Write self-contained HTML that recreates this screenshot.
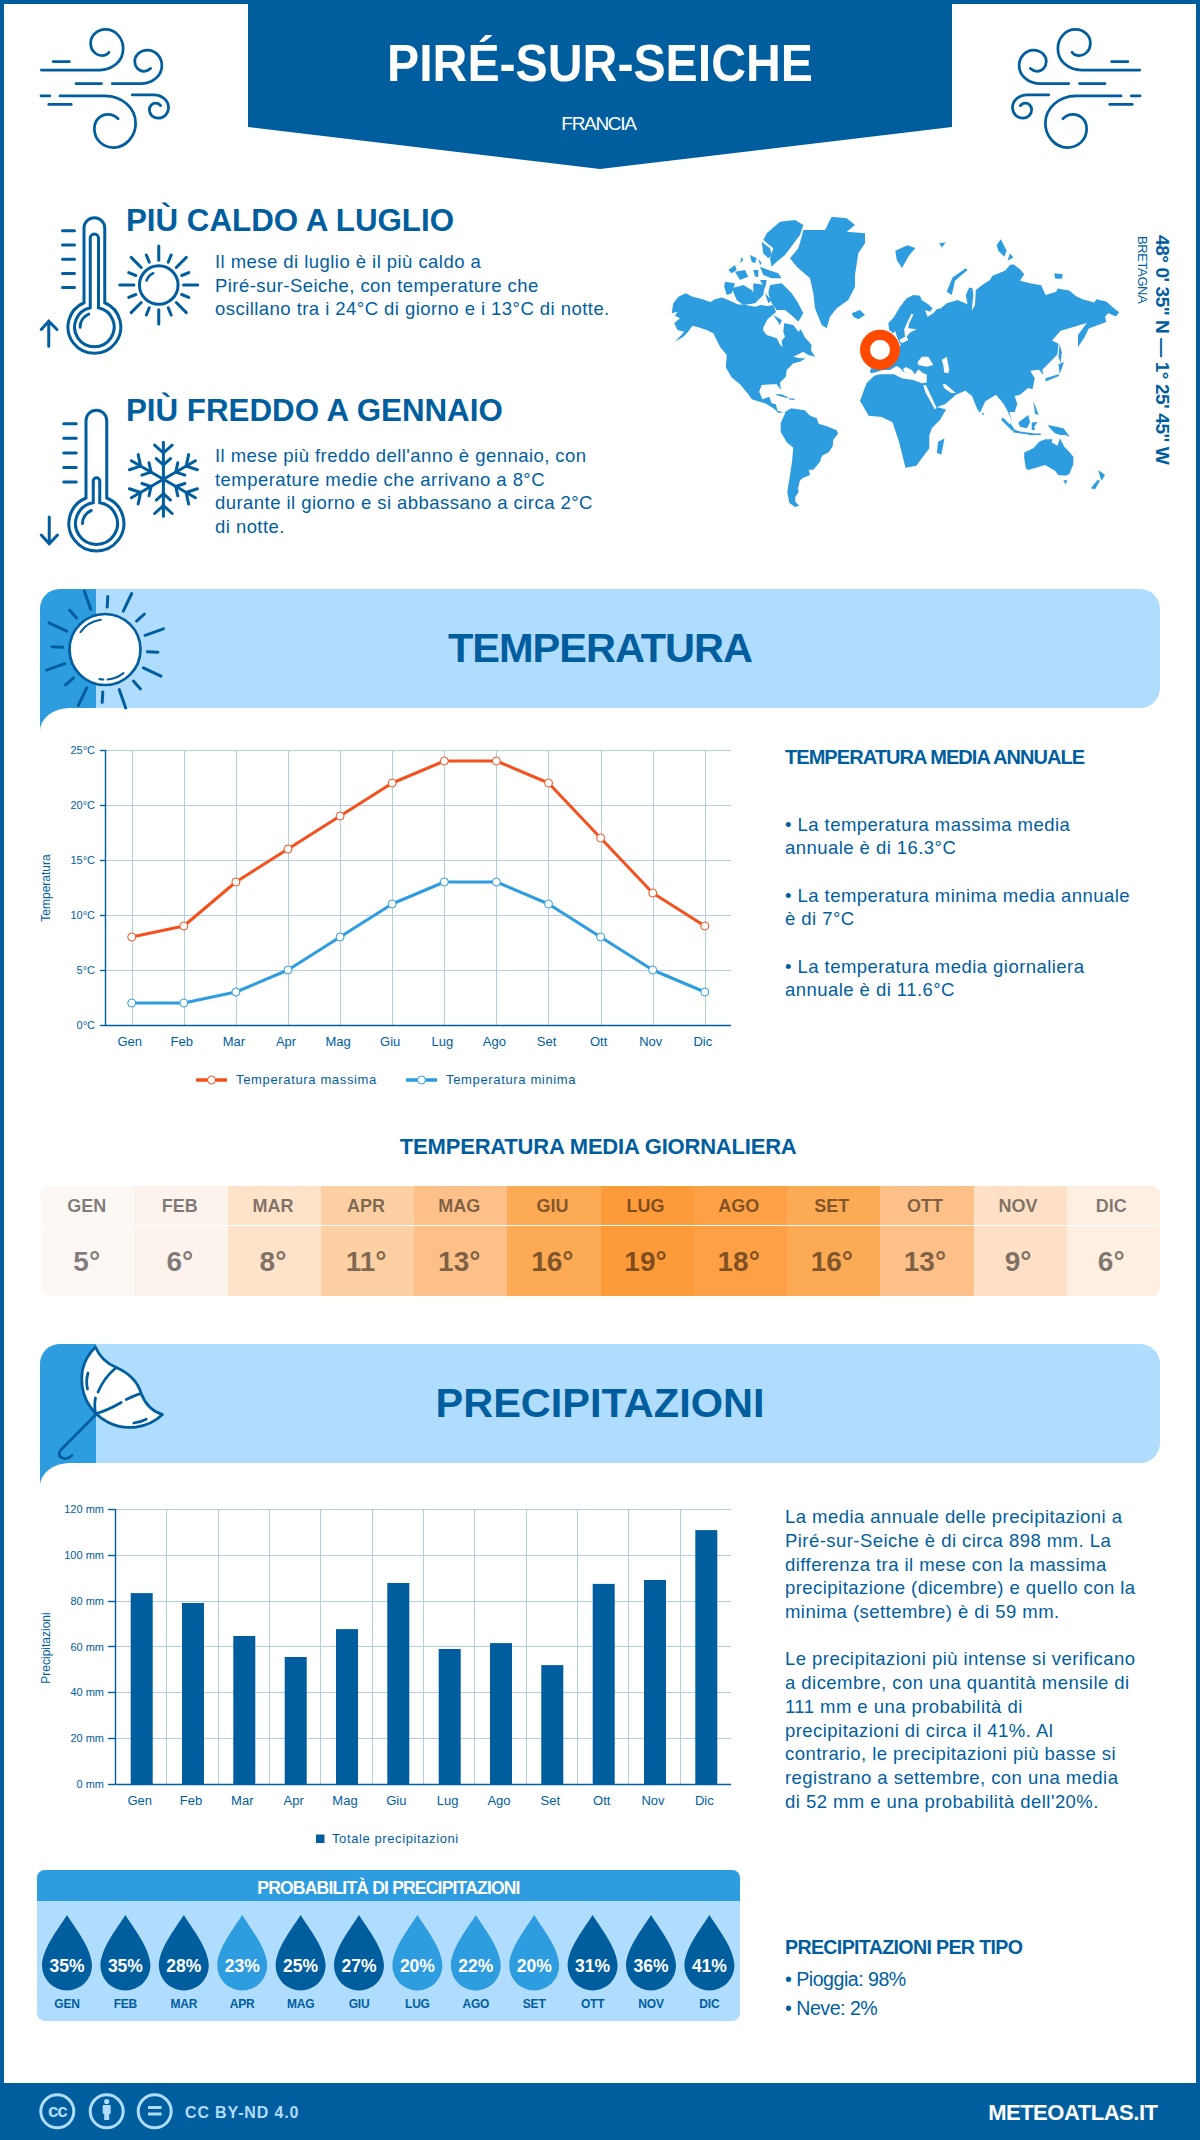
<!DOCTYPE html>
<html><head><meta charset="utf-8">
<style>
html,body{margin:0;padding:0}
body{width:1200px;height:2140px;position:relative;overflow:hidden;background:#fff;font-family:"Liberation Sans",sans-serif;color:#005e9f}
.a{position:absolute;white-space:nowrap}
.b{font-weight:bold}
svg{position:absolute;overflow:visible}
.brd{position:absolute;background:#005e9f}
.p{font-size:18.5px;line-height:23.4px;letter-spacing:0.45px}
</style></head><body>
<!-- borders -->
<div class="brd" style="left:0;top:0;width:1200px;height:4px"></div>
<div class="brd" style="left:0;top:0;width:4px;height:2140px"></div>
<div class="brd" style="right:0;top:0;width:4px;height:2140px"></div>
<div class="brd" style="left:0;top:2083px;width:1200px;height:57px"></div>

<!-- title banner -->
<svg style="left:0;top:0" width="1200" height="180"><polygon points="248,0 952,0 952,127 600,169 248,127" fill="#005e9f"/></svg>
<div class="a b" style="left:0;width:1200px;text-align:center;top:28px;font-size:52px;line-height:70px;color:#fff;transform:scaleX(0.927)">PIRÉ-SUR-SEICHE</div>
<div class="a" style="left:-1.5px;width:1200px;text-align:center;top:113px;font-size:19px;line-height:22px;color:#fff;letter-spacing:-1.3px">FRANCIA</div>

<!--ICONS_TOP-->
<svg style="left:30px;top:20px" width="150" height="135" viewBox="0 0 1200 1080"><g fill="none" stroke="#005e9f" stroke-width="22" stroke-linecap="round"><path d="M90,400 L555,400 C660,400 745,330 745,230 C745,140 680,75 605,75 C530,75 485,130 485,185 C485,240 525,285 575,285 C600,285 620,275 632,258"/>
<path d="M185,332 L315,332"/>
<path d="M368,508 L572,508"/>
<path d="M658,508 L895,508 C985,508 1055,440 1055,365 C1055,295 1000,240 940,240 C880,240 838,285 838,330 C838,375 870,410 910,410 C935,410 952,400 965,388"/>
<path d="M88,607 L158,607"/>
<path d="M240,607 L600,607 C740,607 845,710 845,825 C845,930 765,1020 670,1020 C580,1020 515,955 515,870 C515,800 565,755 625,755 C655,755 685,770 705,790"/>
<path d="M150,675 L330,675"/>
<path d="M818,598 L990,598 C1055,598 1108,645 1108,700 C1108,750 1070,785 1025,785 C985,785 955,755 955,718 C955,688 978,665 1005,665 C1022,665 1035,672 1045,685"/></g></svg><svg style="left:1001px;top:20px" width="150" height="135" viewBox="0 0 1200 1080"><g transform="translate(1200,0) scale(-1,1)" fill="none" stroke="#005e9f" stroke-width="22" stroke-linecap="round"><path d="M90,400 L555,400 C660,400 745,330 745,230 C745,140 680,75 605,75 C530,75 485,130 485,185 C485,240 525,285 575,285 C600,285 620,275 632,258"/>
<path d="M185,332 L315,332"/>
<path d="M368,508 L572,508"/>
<path d="M658,508 L895,508 C985,508 1055,440 1055,365 C1055,295 1000,240 940,240 C880,240 838,285 838,330 C838,375 870,410 910,410 C935,410 952,400 965,388"/>
<path d="M88,607 L158,607"/>
<path d="M240,607 L600,607 C740,607 845,710 845,825 C845,930 765,1020 670,1020 C580,1020 515,955 515,870 C515,800 565,755 625,755 C655,755 685,770 705,790"/>
<path d="M150,675 L330,675"/>
<path d="M818,598 L990,598 C1055,598 1108,645 1108,700 C1108,750 1070,785 1025,785 C985,785 955,755 955,718 C955,688 978,665 1005,665 C1022,665 1035,672 1045,685"/></g></svg><svg style="left:20px;top:190px" width="75" height="45" viewBox="0 0 300 180" overflow="visible"><g fill="none" stroke="#005e9f" stroke-width="12" stroke-linecap="round">
<path d="M256,451 L256,152.5 A41.5,41.5 0 0 1 339,152.5 L339,451 A105.5,105.5 0 1 1 256,451 Z"/>
<path d="M281,471 L281,192.5 A16.5,16.5 0 0 1 314,192.5 L314,471 A79,79 0 1 1 281,471 Z"/>
<path d="M240.5,548.5 A56.5,56.5 0 0 1 275,496.5"/>
<path d="M170,163 H218 M170,220 H218 M170,277 H218 M170,334 H218 M170,390 H218"/>
<path d="M115,625 V525 M85,558 L115,525 L148,558"/>
</g></svg><svg style="left:20px;top:380px" width="75" height="45" viewBox="0 0 300 180" overflow="visible"><g fill="none" stroke="#005e9f" stroke-width="12" stroke-linecap="round">
<path d="M264,472 L264,162.5 A41.5,41.5 0 0 1 347,162.5 L347,472 A110,110 0 1 1 264,472 Z"/>
<path d="M293,491 L293,404 A13,13 0 0 1 319,404 L319,491 A84,84 0 1 1 293,491 Z"/>
<path d="M250,574 A56,56 0 0 1 285,522"/>
<path d="M175,175 H225 M175,233 H225 M175,292 H225 M175,350 H225 M175,408 H225"/>
<path d="M117,548 V655 M85,620 L117,655 L150,620"/>
</g></svg><svg style="left:0;top:0" width="1" height="1"><g fill="none" stroke="#005e9f" stroke-width="3" stroke-linecap="round"><line x1="158.75" y1="260.20" x2="158.75" y2="246.00"/><line x1="168.24" y1="262.09" x2="171.19" y2="254.97"/><line x1="176.29" y1="267.46" x2="186.33" y2="257.42"/><line x1="181.66" y1="275.51" x2="188.78" y2="272.56"/><line x1="183.55" y1="285.00" x2="197.75" y2="285.00"/><line x1="181.66" y1="294.49" x2="188.78" y2="297.44"/><line x1="176.29" y1="302.54" x2="186.33" y2="312.58"/><line x1="168.24" y1="307.91" x2="171.19" y2="315.03"/><line x1="158.75" y1="309.80" x2="158.75" y2="324.00"/><line x1="149.26" y1="307.91" x2="146.31" y2="315.03"/><line x1="141.21" y1="302.54" x2="131.17" y2="312.58"/><line x1="135.84" y1="294.49" x2="128.72" y2="297.44"/><line x1="133.95" y1="285.00" x2="119.75" y2="285.00"/><line x1="135.84" y1="275.51" x2="128.72" y2="272.56"/><line x1="141.21" y1="267.46" x2="131.17" y2="257.42"/><line x1="149.26" y1="262.09" x2="146.31" y2="254.97"/><circle cx="158.75" cy="285" r="19.3"/><path d="M146.53,280.55 A13,13 0 0 1 153.26,273.22" stroke-width="2.5"/></g></svg><svg style="left:0;top:0" width="1" height="1"><g fill="none" stroke="#005e9f" stroke-width="3" stroke-linecap="round"><line x1="163.40" y1="479.30" x2="163.40" y2="442.30"/><line x1="163.40" y1="465.00" x2="156.27" y2="458.58"/><line x1="163.40" y1="465.00" x2="170.53" y2="458.58"/><line x1="163.40" y1="453.00" x2="154.63" y2="445.10"/><line x1="163.40" y1="453.00" x2="172.17" y2="445.10"/><line x1="163.40" y1="479.30" x2="195.44" y2="460.80"/><line x1="175.78" y1="472.15" x2="177.78" y2="462.76"/><line x1="175.78" y1="472.15" x2="184.91" y2="475.12"/><line x1="186.18" y1="466.15" x2="188.63" y2="454.61"/><line x1="186.18" y1="466.15" x2="197.40" y2="469.80"/><line x1="163.40" y1="479.30" x2="195.44" y2="497.80"/><line x1="175.78" y1="486.45" x2="184.91" y2="483.48"/><line x1="175.78" y1="486.45" x2="177.78" y2="495.84"/><line x1="186.18" y1="492.45" x2="197.40" y2="488.80"/><line x1="186.18" y1="492.45" x2="188.63" y2="503.99"/><line x1="163.40" y1="479.30" x2="163.40" y2="516.30"/><line x1="163.40" y1="493.60" x2="170.53" y2="500.02"/><line x1="163.40" y1="493.60" x2="156.27" y2="500.02"/><line x1="163.40" y1="505.60" x2="172.17" y2="513.50"/><line x1="163.40" y1="505.60" x2="154.63" y2="513.50"/><line x1="163.40" y1="479.30" x2="131.36" y2="460.80"/><line x1="151.02" y1="472.15" x2="141.89" y2="475.12"/><line x1="151.02" y1="472.15" x2="149.02" y2="462.76"/><line x1="140.62" y1="466.15" x2="129.40" y2="469.80"/><line x1="140.62" y1="466.15" x2="138.17" y2="454.61"/><line x1="163.40" y1="479.30" x2="131.36" y2="497.80"/><line x1="151.02" y1="486.45" x2="149.02" y2="495.84"/><line x1="151.02" y1="486.45" x2="141.89" y2="483.48"/><line x1="140.62" y1="492.45" x2="138.17" y2="503.99"/><line x1="140.62" y1="492.45" x2="129.40" y2="488.80"/></g></svg>
<!--/ICONS_TOP-->

<!-- hot / cold -->
<div class="a b" style="left:126px;top:200.9px;font-size:31.3px;line-height:40px">PIÙ CALDO A LUGLIO</div>
<div class="a p" style="left:215px;top:250.2px">Il mese di luglio è il più caldo a<br>Piré-sur-Seiche, con temperature che<br>oscillano tra i 24°C di giorno e i 13°C di notte.</div>
<div class="a b" style="left:126px;top:390.9px;font-size:31.3px;line-height:40px">PIÙ FREDDO A GENNAIO</div>
<div class="a p" style="left:215px;top:444.4px">Il mese più freddo dell'anno è gennaio, con<br>temperature medie che arrivano a 8°C<br>durante il giorno e si abbassano a circa 2°C<br>di notte.</div>

<!--MAP-->
<svg style="left:0;top:0" width="1" height="1"><polygon fill="#2e9de0" points="673.3,303.3 678.3,296.7 685.8,293.3 692.5,296.7 702.5,299.2 710.4,302.1 715.0,299.2 721.7,297.5 728.3,300.0 737.5,304.2 745.8,305.0 755.0,306.7 760.8,305.0 768.0,306.0 773.3,305.0 776.0,312.0 767.5,319.2 763.3,327.5 763.3,330.8 766.7,335.0 776.7,338.3 779.2,343.3 782.5,347.5 781.7,340.8 785.0,336.7 783.3,331.7 784.2,323.3 785.0,323.3 793.3,325.0 798.3,331.7 800.8,329.2 805.0,337.5 811.7,345.0 810.8,350.0 815.0,356.7 808.3,355.0 803.3,351.7 793.3,356.7 800.0,358.3 805.8,358.3 800.0,361.7 793.3,363.3 786.7,370.0 785.8,376.7 780.0,382.5 780.8,390.0 776.7,384.2 771.7,384.2 761.7,385.0 759.2,391.7 762.5,399.2 769.2,396.7 771.7,403.3 775.8,404.2 777.5,410.8 783.3,412.3 778.7,413.0 773.3,408.3 765.0,403.3 751.7,399.2 748.3,394.2 740.0,384.2 731.7,377.5 725.8,367.5 726.7,355.0 720.0,346.7 713.3,333.3 706.7,330.0 696.7,326.7 692.5,325.8 687.5,332.5 683.3,336.7 675.0,341.7 684.2,331.7 677.5,330.0 674.2,323.3 680.0,318.3 675.0,315.8 677.5,311.7 671.7,313.3"/><polygon fill="#2e9de0" points="785.3,411.7 791.3,408.3 804.7,410.3 810.0,415.7 816.7,418.3 818.7,423.7 826.7,426.3 836.7,430.3 838.0,433.7 833.3,439.7 832.7,446.3 828.7,452.3 822.0,455.7 820.0,461.7 813.3,469.7 808.7,469.7 810.0,475.0 803.3,477.7 800.0,480.3 798.0,488.3 798.7,491.7 795.3,497.0 795.3,501.7 799.3,505.7 795.3,507.0 789.3,503.0 787.3,491.7 790.0,475.0 792.0,461.7 793.3,447.7 786.7,442.3 780.7,431.7 780.7,423.0 784.7,414.3"/><polygon fill="#2e9de0" points="803.3,230.0 825.0,230.0 831.7,216.7 846.7,218.3 855.0,225.0 846.7,231.7 865.0,233.3 865.0,243.3 858.3,253.3 855.0,275.0 855.0,286.7 848.3,300.0 836.7,308.3 830.0,316.7 826.7,328.3 821.7,325.0 815.0,308.3 813.3,293.3 810.0,278.3 796.7,266.7 790.0,258.3 798.3,248.3 801.7,236.7"/><polygon fill="#2e9de0" points="851.7,313.3 860.0,310.0 865.0,315.0 858.3,319.2 853.3,316.7"/><polygon fill="#2e9de0" points="725.0,281.7 735.0,283.3 731.7,293.3 726.7,295.0 724.2,286.7"/><polygon fill="#2e9de0" points="731.7,288.3 743.3,285.0 751.7,290.0 758.3,300.0 755.0,303.3 743.3,305.0 736.7,300.0"/><polygon fill="#2e9de0" points="753.3,283.3 765.0,285.0 763.3,295.0 758.3,300.0 753.3,293.3"/><polygon fill="#2e9de0" points="728.3,270.0 735.0,265.0 736.7,270.0 731.7,273.3"/><polygon fill="#2e9de0" points="735.0,271.7 745.0,270.0 748.3,276.7 740.0,280.0"/><polygon fill="#2e9de0" points="741.7,256.7 743.3,260.0 740.0,263.3"/><polygon fill="#2e9de0" points="750.0,255.0 756.7,258.3 755.0,263.3 751.7,261.7"/><polygon fill="#2e9de0" points="753.3,270.0 758.3,270.0 758.3,276.7 755.0,276.7"/><polygon fill="#2e9de0" points="758.3,258.3 761.7,263.3 760.0,265.0"/><polygon fill="#2e9de0" points="760.0,266.7 768.3,270.0 778.3,273.3 781.7,278.3 771.7,278.3 763.3,275.0"/><polygon fill="#2e9de0" points="760.0,280.0 766.7,280.0 765.0,288.3"/><polygon fill="#2e9de0" points="765.0,293.3 771.7,300.0 768.3,303.3"/><polygon fill="#2e9de0" points="766.7,233.3 780.0,221.7 795.0,220.0 803.3,225.0 800.0,235.0 785.0,255.0 775.0,263.3 771.7,266.7 770.0,258.3 773.3,248.3 763.3,240.0"/><polygon fill="#2e9de0" points="761.7,241.7 770.0,248.3 771.7,255.0 768.3,258.3 763.3,253.3"/><polygon fill="#2e9de0" points="770.0,285.0 781.7,283.3 791.7,293.3 798.3,303.3 803.3,313.3 798.3,321.7 793.3,316.7 785.0,310.0 776.7,310.0 771.7,303.3 768.3,293.3"/><polygon fill="#2e9de0" points="773.3,315.0 781.7,320.0 780.0,325.0"/><polygon fill="#2e9de0" points="775.8,394.2 781.7,394.2 788.3,397.5 786.7,397.9 775.8,395.0"/><polygon fill="#2e9de0" points="789.2,398.3 795.0,398.8 794.2,400.0 789.2,399.6"/><polygon fill="#2e9de0" points="888.3,323.3 894.2,316.7 900.0,306.7 906.7,298.3 913.3,295.0 920.0,295.8 921.7,300.0 928.3,304.2 932.5,308.3 930.0,311.7 925.0,310.0 927.5,316.7 933.3,313.3 936.7,309.2 940.8,308.3 946.7,303.3 957.5,300.0 967.5,304.2 965.8,295.0 969.2,287.5 972.5,288.3 973.3,295.0 971.7,310.8 975.0,305.0 975.8,290.0 983.3,284.2 990.0,280.0 992.5,275.8 1005.0,270.8 1010.0,265.0 1013.3,264.2 1020.0,269.2 1024.2,274.2 1020.0,280.8 1030.0,283.3 1041.2,285.2 1045.5,294.9 1056.3,291.7 1057.4,288.4 1069.3,290.6 1075.8,296.0 1082.3,299.3 1094.3,302.5 1096.4,299.3 1106.2,301.4 1114.8,309.0 1119.2,312.3 1115.9,316.6 1108.3,313.3 1105.1,316.6 1106.2,322.0 1097.5,325.3 1088.8,328.5 1084.5,337.2 1078.0,346.9 1078.0,335.0 1086.7,323.1 1075.8,326.3 1060.7,330.7 1052.0,340.4 1058.5,343.7 1057.4,354.5 1048.8,363.2 1042.3,369.7 1043.3,375.1 1039.0,369.7 1030.3,370.8 1034.7,378.3 1032.5,389.2 1028.0,388.0 1020.0,394.7 1014.7,396.0 1017.3,404.0 1014.7,412.0 1009.3,412.0 1012.0,421.3 1006.7,409.3 1002.7,402.7 996.0,394.7 985.3,401.3 980.0,412.7 977.3,409.3 972.0,396.0 965.3,390.7 956.0,394.7 945.3,404.0 937.0,407.0 946.0,409.5 940.0,420.0 932.0,428.0 929.3,435.3 929.3,448.3 922.8,457.0 916.3,465.7 905.5,467.8 899.0,441.8 892.5,422.3 881.7,416.9 868.7,415.8 860.0,400.7 866.5,383.3 874.2,375.8 870.0,372.0 870.8,368.3 881.7,368.0 890.0,361.7 895.0,359.2 898.0,350.0 900.7,345.0 897.5,338.3 895.0,330.8 893.3,333.3 889.2,330.0"/><polygon fill="#fff" points="872.0,373.0 875.0,372.5 882.5,370.0 890.0,370.0 896.7,366.0 900.0,368.0 905.0,373.3 903.0,369.0 906.0,367.0 911.7,370.0 915.0,374.2 918.3,369.2 923.3,373.3 926.7,374.2 926.7,377.5 926.7,382.5 921.7,383.3 913.3,380.0 901.7,378.3 894.2,374.2 880.0,374.2 870.0,376.7"/><polygon fill="#fff" points="917.5,362.5 921.7,356.7 928.3,356.7 933.3,365.0 926.7,366.7 918.3,365.0"/><polygon fill="#fff" points="941.7,360.0 946.7,356.7 949.2,369.2 948.3,373.3 944.2,372.5 943.3,365.0"/><polygon fill="#fff" points="899.2,340.0 905.0,336.7 904.2,329.2 907.5,321.7 911.7,313.3 913.3,315.0 909.2,323.3 908.3,328.3 916.7,329.2 910.0,332.5 906.7,336.7 908.3,340.0 901.7,343.3"/><polygon fill="#fff" points="923.3,385.3 926.0,385.3 936.7,408.0 934.7,409.3 925.3,392.0"/><polygon fill="#fff" points="942.7,384.0 945.3,384.0 953.3,390.7 956.0,393.3 950.7,392.7 944.0,388.0"/><polygon fill="#2e9de0" points="895.3,250.7 907.3,245.3 915.3,248.0 908.7,256.0 902.0,268.0 896.7,260.0"/><polygon fill="#2e9de0" points="946.7,291.7 952.5,277.5 965.8,268.3 967.5,270.0 955.0,280.8 951.7,295.0"/><polygon fill="#2e9de0" points="1000.8,239.2 1006.7,250.8 1004.2,256.7 998.3,250.8 996.7,245.0"/><polygon fill="#2e9de0" points="1010.0,253.3 1013.3,257.5 1007.5,260.8"/><polygon fill="#2e9de0" points="939.2,243.3 945.8,242.5 941.7,247.5"/><polygon fill="#2e9de0" points="1054.2,273.3 1062.8,274.3 1061.8,278.7 1055.3,278.7"/><polygon fill="#2e9de0" points="1059.6,343.7 1061.8,352.3 1060.7,363.2 1058.5,356.7"/><polygon fill="#2e9de0" points="1063.9,362.1 1058.5,364.3 1059.6,374.0 1045.5,378.3 1045.5,381.6 1058.5,376.2 1062.0,368.0"/><polygon fill="#2e9de0" points="938.0,441.8 944.5,438.6 941.3,454.8 936.9,452.7"/><polygon fill="#2e9de0" points="1002.7,417.3 1013.3,428.0 1012.0,430.7 1001.3,420.0"/><polygon fill="#2e9de0" points="1010.0,422.5 1014.2,429.2 1025.0,434.2 1014.2,431.7 1010.0,428.3"/><polygon fill="#2e9de0" points="1013.3,430.7 1033.3,433.3 1033.0,435.0 1013.3,432.5"/><polygon fill="#2e9de0" points="1028.3,433.5 1040.8,433.5 1040.8,435.0 1028.3,435.0"/><polygon fill="#2e9de0" points="1018.3,422.5 1028.3,415.0 1030.0,422.5 1026.7,428.3 1020.0,426.7"/><polygon fill="#2e9de0" points="1031.7,422.5 1037.5,422.1 1034.2,426.7 1035.0,430.0 1031.7,430.0"/><polygon fill="#2e9de0" points="1033.3,401.3 1038.7,414.7 1035.0,414.0"/><polygon fill="#2e9de0" points="1047.5,425.0 1054.2,426.3 1063.3,428.3 1070.0,436.7 1065.0,435.0 1060.0,435.0 1055.0,433.3 1050.0,428.3"/><polygon fill="#2e9de0" points="1024.2,452.5 1033.3,448.3 1039.2,441.7 1045.0,439.2 1052.5,439.2 1051.7,442.5 1057.5,445.8 1060.0,438.3 1064.2,446.7 1068.3,450.8 1073.3,456.7 1073.3,464.2 1069.2,474.2 1065.0,475.8 1058.3,475.0 1055.0,470.8 1050.8,468.3 1045.0,465.0 1036.7,467.5 1028.3,470.0 1025.8,468.3 1024.2,458.3"/><polygon fill="#2e9de0" points="1063.3,480.0 1067.5,480.4 1065.4,484.2"/><polygon fill="#2e9de0" points="1098.3,470.0 1105.0,475.0 1101.7,480.8 1100.0,476.7"/><polygon fill="#2e9de0" points="1097.5,480.0 1100.0,480.8 1095.0,489.2 1090.8,488.3"/><polygon fill="#2e9de0" points="982.0,413.0 984.0,413.0 983.0,416.0"/><circle cx="880" cy="349.8" r="15" fill="none" stroke="#ff4a00" stroke-width="10"/></svg><div class="a b" style="left:1173.9px;top:234.5px;font-size:19px;line-height:24px;letter-spacing:-0.4px;transform:rotate(90deg);transform-origin:0 0">48° 0' 35'' N — 1° 25' 45'' W</div><div class="a" style="left:1150.3px;top:236px;font-size:13px;line-height:16px;letter-spacing:-0.4px;transform:rotate(90deg);transform-origin:0 0">BRETAGNA</div>
<!--/MAP-->

<!-- temperature header -->
<!--TEMPHEAD-->
<div style="position:absolute;left:40px;top:589px;width:1120px;height:119px;background:#b0dcfd;border-radius:20px"></div>
<div style="position:absolute;left:40px;top:589px;width:56px;height:142px;background:#2e9de0;border-top-left-radius:20px"></div>
<div style="position:absolute;left:40px;top:708px;width:80px;height:30px;background:#fff;border-top-left-radius:30px 23px"></div>
<div class="a b" style="left:0;width:1200px;text-align:center;top:620.3px;font-size:41.5px;line-height:56px;letter-spacing:-1px">TEMPERATURA</div>
<svg style="left:0;top:0" width="1" height="1"><g stroke="#005e9f" stroke-width="3" stroke-linecap="round" fill="none"><line x1="147.4" y1="651.7" x2="157.9" y2="652.3"/><line x1="143.4" y1="667.8" x2="161.0" y2="676.2"/><line x1="133.4" y1="681.1" x2="140.5" y2="688.9"/><line x1="119.2" y1="689.6" x2="125.7" y2="707.9"/><line x1="102.8" y1="691.9" x2="102.2" y2="702.4"/><line x1="86.7" y1="687.9" x2="78.3" y2="705.5"/><line x1="73.4" y1="677.9" x2="65.6" y2="685.0"/><line x1="64.9" y1="663.7" x2="46.6" y2="670.2"/><line x1="62.6" y1="647.3" x2="52.1" y2="646.7"/><line x1="66.6" y1="631.2" x2="49.0" y2="622.8"/><line x1="76.6" y1="617.9" x2="69.5" y2="610.1"/><line x1="90.8" y1="609.4" x2="84.3" y2="591.1"/><line x1="107.2" y1="607.1" x2="107.8" y2="596.6"/><line x1="123.3" y1="611.1" x2="131.7" y2="593.5"/><line x1="136.6" y1="621.1" x2="144.4" y2="614.0"/><line x1="145.1" y1="635.3" x2="163.4" y2="628.8"/><circle cx="105" cy="649.5" r="35.5" fill="#fff" stroke-width="2.7"/><path d="M80.4,632.3 A30,30 0 0 1 100.8,619.8" stroke-width="2"/><path d="M123.5,673.1 A30,30 0 0 1 107.6,679.4" stroke-width="2"/><path d="M103.4,679.5 A30,30 0 0 1 99.3,678.9" stroke-width="2"/></g></svg>
<!--/TEMPHEAD-->

<!--TEMPCHART-->
<svg style="left:0;top:0" width="1" height="1"><g stroke="#b3cde3" stroke-width="1"><line x1="106" y1="1025.5" x2="731" y2="1025.5"/><line x1="106" y1="970.5" x2="731" y2="970.5"/><line x1="106" y1="915.5" x2="731" y2="915.5"/><line x1="106" y1="860.5" x2="731" y2="860.5"/><line x1="106" y1="805.5" x2="731" y2="805.5"/><line x1="106" y1="750.5" x2="731" y2="750.5"/><line x1="132.5" y1="750" x2="132.5" y2="1025"/><line x1="184.5" y1="750" x2="184.5" y2="1025"/><line x1="236.5" y1="750" x2="236.5" y2="1025"/><line x1="288.5" y1="750" x2="288.5" y2="1025"/><line x1="340.5" y1="750" x2="340.5" y2="1025"/><line x1="392.5" y1="750" x2="392.5" y2="1025"/><line x1="444.5" y1="750" x2="444.5" y2="1025"/><line x1="496.5" y1="750" x2="496.5" y2="1025"/><line x1="548.5" y1="750" x2="548.5" y2="1025"/><line x1="601.5" y1="750" x2="601.5" y2="1025"/><line x1="653.5" y1="750" x2="653.5" y2="1025"/><line x1="705.5" y1="750" x2="705.5" y2="1025"/></g><g stroke="#005e9f" stroke-width="1.4"><line x1="105.5" y1="750" x2="105.5" y2="1025.5"/><line x1="105.5" y1="1025.5" x2="731" y2="1025.5"/><line x1="100" y1="1025.5" x2="106" y2="1025.5"/><line x1="100" y1="970.5" x2="106" y2="970.5"/><line x1="100" y1="915.5" x2="106" y2="915.5"/><line x1="100" y1="860.5" x2="106" y2="860.5"/><line x1="100" y1="805.5" x2="106" y2="805.5"/><line x1="100" y1="750.5" x2="106" y2="750.5"/></g><polyline points="131.7,937 183.8,926 235.9,882 288.0,849 340.1,816 392.2,783 444.3,761 496.4,761 548.5,783 600.6,838 652.7,893 704.8,926" fill="none" stroke="#f4511e" stroke-width="3" stroke-linejoin="round"/><circle cx="131.7" cy="937" r="4" fill="#fff" stroke="#f4511e" stroke-width="1"/><circle cx="183.8" cy="926" r="4" fill="#fff" stroke="#f4511e" stroke-width="1"/><circle cx="235.9" cy="882" r="4" fill="#fff" stroke="#f4511e" stroke-width="1"/><circle cx="288.0" cy="849" r="4" fill="#fff" stroke="#f4511e" stroke-width="1"/><circle cx="340.1" cy="816" r="4" fill="#fff" stroke="#f4511e" stroke-width="1"/><circle cx="392.2" cy="783" r="4" fill="#fff" stroke="#f4511e" stroke-width="1"/><circle cx="444.3" cy="761" r="4" fill="#fff" stroke="#f4511e" stroke-width="1"/><circle cx="496.4" cy="761" r="4" fill="#fff" stroke="#f4511e" stroke-width="1"/><circle cx="548.5" cy="783" r="4" fill="#fff" stroke="#f4511e" stroke-width="1"/><circle cx="600.6" cy="838" r="4" fill="#fff" stroke="#f4511e" stroke-width="1"/><circle cx="652.7" cy="893" r="4" fill="#fff" stroke="#f4511e" stroke-width="1"/><circle cx="704.8" cy="926" r="4" fill="#fff" stroke="#f4511e" stroke-width="1"/><polyline points="131.7,1003 183.8,1003 235.9,992 288.0,970 340.1,937 392.2,904 444.3,882 496.4,882 548.5,904 600.6,937 652.7,970 704.8,992" fill="none" stroke="#2e9de0" stroke-width="3" stroke-linejoin="round"/><circle cx="131.7" cy="1003" r="4" fill="#fff" stroke="#2e9de0" stroke-width="1"/><circle cx="183.8" cy="1003" r="4" fill="#fff" stroke="#2e9de0" stroke-width="1"/><circle cx="235.9" cy="992" r="4" fill="#fff" stroke="#2e9de0" stroke-width="1"/><circle cx="288.0" cy="970" r="4" fill="#fff" stroke="#2e9de0" stroke-width="1"/><circle cx="340.1" cy="937" r="4" fill="#fff" stroke="#2e9de0" stroke-width="1"/><circle cx="392.2" cy="904" r="4" fill="#fff" stroke="#2e9de0" stroke-width="1"/><circle cx="444.3" cy="882" r="4" fill="#fff" stroke="#2e9de0" stroke-width="1"/><circle cx="496.4" cy="882" r="4" fill="#fff" stroke="#2e9de0" stroke-width="1"/><circle cx="548.5" cy="904" r="4" fill="#fff" stroke="#2e9de0" stroke-width="1"/><circle cx="600.6" cy="937" r="4" fill="#fff" stroke="#2e9de0" stroke-width="1"/><circle cx="652.7" cy="970" r="4" fill="#fff" stroke="#2e9de0" stroke-width="1"/><circle cx="704.8" cy="992" r="4" fill="#fff" stroke="#2e9de0" stroke-width="1"/><line x1="196" y1="1080" x2="227" y2="1080" stroke="#f4511e" stroke-width="3.5"/><circle cx="211.5" cy="1080" r="4" fill="#fff" stroke="#f4511e" stroke-width="1"/><line x1="406" y1="1080" x2="437" y2="1080" stroke="#2e9de0" stroke-width="3.5"/><circle cx="421.5" cy="1080" r="4" fill="#fff" stroke="#2e9de0" stroke-width="1"/></svg><div class="a" style="left:40px;width:55px;text-align:right;top:1017px;font-size:11px;line-height:16px">0°C</div><div class="a" style="left:40px;width:55px;text-align:right;top:962px;font-size:11px;line-height:16px">5°C</div><div class="a" style="left:40px;width:55px;text-align:right;top:907px;font-size:11px;line-height:16px">10°C</div><div class="a" style="left:40px;width:55px;text-align:right;top:852px;font-size:11px;line-height:16px">15°C</div><div class="a" style="left:40px;width:55px;text-align:right;top:797px;font-size:11px;line-height:16px">20°C</div><div class="a" style="left:40px;width:55px;text-align:right;top:742px;font-size:11px;line-height:16px">25°C</div><div class="a" style="left:99.7px;width:60px;text-align:center;top:1033px;font-size:13px;line-height:17px">Gen</div><div class="a" style="left:151.8px;width:60px;text-align:center;top:1033px;font-size:13px;line-height:17px">Feb</div><div class="a" style="left:203.9px;width:60px;text-align:center;top:1033px;font-size:13px;line-height:17px">Mar</div><div class="a" style="left:256.0px;width:60px;text-align:center;top:1033px;font-size:13px;line-height:17px">Apr</div><div class="a" style="left:308.1px;width:60px;text-align:center;top:1033px;font-size:13px;line-height:17px">Mag</div><div class="a" style="left:360.2px;width:60px;text-align:center;top:1033px;font-size:13px;line-height:17px">Giu</div><div class="a" style="left:412.3px;width:60px;text-align:center;top:1033px;font-size:13px;line-height:17px">Lug</div><div class="a" style="left:464.4px;width:60px;text-align:center;top:1033px;font-size:13px;line-height:17px">Ago</div><div class="a" style="left:516.5px;width:60px;text-align:center;top:1033px;font-size:13px;line-height:17px">Set</div><div class="a" style="left:568.6px;width:60px;text-align:center;top:1033px;font-size:13px;line-height:17px">Ott</div><div class="a" style="left:620.7px;width:60px;text-align:center;top:1033px;font-size:13px;line-height:17px">Nov</div><div class="a" style="left:672.8px;width:60px;text-align:center;top:1033px;font-size:13px;line-height:17px">Dic</div><div class="a" style="left:46px;top:888px;font-size:12px;line-height:14px;transform:translate(-50%,-50%) rotate(-90deg)">Temperatura</div><div class="a" style="left:236px;top:1071px;font-size:13px;line-height:17px;letter-spacing:0.65px">Temperatura massima</div><div class="a" style="left:446px;top:1071px;font-size:13px;line-height:17px;letter-spacing:0.65px">Temperatura minima</div>
<!--/TEMPCHART-->

<div class="a b" style="left:785px;top:745.4px;font-size:20px;line-height:24px;letter-spacing:-0.95px">TEMPERATURA MEDIA ANNUALE</div>
<div class="a p" style="left:785px;top:813.4px;line-height:23.1px">• La temperatura massima media<br>annuale è di 16.3°C</div>
<div class="a p" style="left:785px;top:884.1px;line-height:23.1px">• La temperatura minima media annuale<br>è di 7°C</div>
<div class="a p" style="left:785px;top:955.2px;line-height:23.1px">• La temperatura media giornaliera<br>annuale è di 11.6°C</div>

<div class="a b" style="left:-1.8px;width:1200px;text-align:center;top:1134.2px;font-size:22px;line-height:26px;letter-spacing:-0.2px">TEMPERATURA MEDIA GIORNALIERA</div>
<!--TABLE-->
<div style="position:absolute;left:41px;top:1186px;width:1119px;height:110px;border-radius:8px;overflow:hidden"><div style="position:absolute;left:0.00px;top:0;width:93.85px;height:110px;background:#fef8f4"></div><div style="position:absolute;left:93.25px;top:0;width:93.85px;height:110px;background:#fdf3ed"></div><div style="position:absolute;left:186.50px;top:0;width:93.85px;height:110px;background:#fee3cb"></div><div style="position:absolute;left:279.75px;top:0;width:93.85px;height:110px;background:#fdd0a4"></div><div style="position:absolute;left:373.00px;top:0;width:93.85px;height:110px;background:#fdc089"></div><div style="position:absolute;left:466.25px;top:0;width:93.85px;height:110px;background:#fdaa55"></div><div style="position:absolute;left:559.50px;top:0;width:93.85px;height:110px;background:#fd9b3b"></div><div style="position:absolute;left:652.75px;top:0;width:93.85px;height:110px;background:#fda046"></div><div style="position:absolute;left:746.00px;top:0;width:93.85px;height:110px;background:#fdaa55"></div><div style="position:absolute;left:839.25px;top:0;width:93.85px;height:110px;background:#fdc089"></div><div style="position:absolute;left:932.50px;top:0;width:93.85px;height:110px;background:#fee0c6"></div><div style="position:absolute;left:1025.75px;top:0;width:93.85px;height:110px;background:#feefe1"></div><div style="position:absolute;left:0;top:38.5px;width:1119px;height:1px;background:#fff"></div><div class="a b" style="left:-0.30px;width:92px;text-align:center;top:8px;font-size:18px;line-height:24px;color:rgba(0,0,0,.5)">GEN</div><div class="a b" style="left:-0.30px;width:92px;text-align:center;top:57.5px;font-size:28px;line-height:36px;color:rgba(0,0,0,.5)">5°</div><div class="a b" style="left:92.84px;width:92px;text-align:center;top:8px;font-size:18px;line-height:24px;color:rgba(0,0,0,.5)">FEB</div><div class="a b" style="left:92.84px;width:92px;text-align:center;top:57.5px;font-size:28px;line-height:36px;color:rgba(0,0,0,.5)">6°</div><div class="a b" style="left:185.98px;width:92px;text-align:center;top:8px;font-size:18px;line-height:24px;color:rgba(0,0,0,.5)">MAR</div><div class="a b" style="left:185.98px;width:92px;text-align:center;top:57.5px;font-size:28px;line-height:36px;color:rgba(0,0,0,.5)">8°</div><div class="a b" style="left:279.12px;width:92px;text-align:center;top:8px;font-size:18px;line-height:24px;color:rgba(0,0,0,.5)">APR</div><div class="a b" style="left:279.12px;width:92px;text-align:center;top:57.5px;font-size:28px;line-height:36px;color:rgba(0,0,0,.5)">11°</div><div class="a b" style="left:372.26px;width:92px;text-align:center;top:8px;font-size:18px;line-height:24px;color:rgba(0,0,0,.5)">MAG</div><div class="a b" style="left:372.26px;width:92px;text-align:center;top:57.5px;font-size:28px;line-height:36px;color:rgba(0,0,0,.5)">13°</div><div class="a b" style="left:465.40px;width:92px;text-align:center;top:8px;font-size:18px;line-height:24px;color:rgba(0,0,0,.5)">GIU</div><div class="a b" style="left:465.40px;width:92px;text-align:center;top:57.5px;font-size:28px;line-height:36px;color:rgba(0,0,0,.5)">16°</div><div class="a b" style="left:558.54px;width:92px;text-align:center;top:8px;font-size:18px;line-height:24px;color:rgba(0,0,0,.5)">LUG</div><div class="a b" style="left:558.54px;width:92px;text-align:center;top:57.5px;font-size:28px;line-height:36px;color:rgba(0,0,0,.5)">19°</div><div class="a b" style="left:651.68px;width:92px;text-align:center;top:8px;font-size:18px;line-height:24px;color:rgba(0,0,0,.5)">AGO</div><div class="a b" style="left:651.68px;width:92px;text-align:center;top:57.5px;font-size:28px;line-height:36px;color:rgba(0,0,0,.5)">18°</div><div class="a b" style="left:744.82px;width:92px;text-align:center;top:8px;font-size:18px;line-height:24px;color:rgba(0,0,0,.5)">SET</div><div class="a b" style="left:744.82px;width:92px;text-align:center;top:57.5px;font-size:28px;line-height:36px;color:rgba(0,0,0,.5)">16°</div><div class="a b" style="left:837.96px;width:92px;text-align:center;top:8px;font-size:18px;line-height:24px;color:rgba(0,0,0,.5)">OTT</div><div class="a b" style="left:837.96px;width:92px;text-align:center;top:57.5px;font-size:28px;line-height:36px;color:rgba(0,0,0,.5)">13°</div><div class="a b" style="left:931.10px;width:92px;text-align:center;top:8px;font-size:18px;line-height:24px;color:rgba(0,0,0,.5)">NOV</div><div class="a b" style="left:931.10px;width:92px;text-align:center;top:57.5px;font-size:28px;line-height:36px;color:rgba(0,0,0,.5)">9°</div><div class="a b" style="left:1024.24px;width:92px;text-align:center;top:8px;font-size:18px;line-height:24px;color:rgba(0,0,0,.5)">DIC</div><div class="a b" style="left:1024.24px;width:92px;text-align:center;top:57.5px;font-size:28px;line-height:36px;color:rgba(0,0,0,.5)">6°</div></div>
<!--/TABLE-->

<!--PRECHEAD-->
<div style="position:absolute;left:40px;top:1344px;width:1120px;height:119px;background:#b0dcfd;border-radius:20px"></div>
<div style="position:absolute;left:40px;top:1344px;width:56px;height:142px;background:#2e9de0;border-top-left-radius:20px"></div>
<div style="position:absolute;left:40px;top:1463px;width:80px;height:30px;background:#fff;border-top-left-radius:30px 23px"></div>
<div class="a b" style="left:0;width:1200px;text-align:center;top:1375.3px;font-size:41.5px;line-height:56px;letter-spacing:0px">PRECIPITAZIONI</div>
<svg style="left:30px;top:1330px" width="75" height="50" viewBox="0 0 300 200" overflow="visible"><g stroke="#005e9f" stroke-width="11" stroke-linecap="round" stroke-linejoin="round" fill="none"><path d="M262,340 L125,478 C100,503 135,530 168,502"/><path fill="#fff" d="M262,68 Q285,125 345,150 Q425,185 445,255 Q470,320 530,338 C470,395 380,405 310,368 C235,328 195,250 210,160 C218,120 240,90 262,68 Z"/><path d="M262,335 C300,325 330,310 365,290 M385,278 C410,265 430,255 445,255"/><path d="M262,335 C258,310 258,290 262,272 M272,248 C290,205 315,175 345,150"/><path d="M232,172 C225,195 225,215 230,236"/><path d="M415,372 C435,370 450,365 465,357"/></g></svg>
<!--/PRECHEAD-->
<!--PRECCHART-->
<svg style="left:0;top:0" width="1" height="1"><g stroke="#b3cde3" stroke-width="1"><line x1="115" y1="1784.5" x2="731" y2="1784.5"/><line x1="115" y1="1738.5" x2="731" y2="1738.5"/><line x1="115" y1="1692.5" x2="731" y2="1692.5"/><line x1="115" y1="1646.5" x2="731" y2="1646.5"/><line x1="115" y1="1601.5" x2="731" y2="1601.5"/><line x1="115" y1="1555.5" x2="731" y2="1555.5"/><line x1="115" y1="1509.5" x2="731" y2="1509.5"/><line x1="166.5" y1="1509" x2="166.5" y2="1784"/><line x1="218.5" y1="1509" x2="218.5" y2="1784"/><line x1="269.5" y1="1509" x2="269.5" y2="1784"/><line x1="320.5" y1="1509" x2="320.5" y2="1784"/><line x1="372.5" y1="1509" x2="372.5" y2="1784"/><line x1="423.5" y1="1509" x2="423.5" y2="1784"/><line x1="474.5" y1="1509" x2="474.5" y2="1784"/><line x1="526.5" y1="1509" x2="526.5" y2="1784"/><line x1="577.5" y1="1509" x2="577.5" y2="1784"/><line x1="628.5" y1="1509" x2="628.5" y2="1784"/><line x1="680.5" y1="1509" x2="680.5" y2="1784"/></g><rect x="130.7" y="1593.1" width="22" height="190.9" fill="#005e9f"/><rect x="182.0" y="1603.0" width="22" height="181.0" fill="#005e9f"/><rect x="233.3" y="1636.0" width="22" height="148.0" fill="#005e9f"/><rect x="284.7" y="1657.0" width="22" height="127.0" fill="#005e9f"/><rect x="336.0" y="1629.1" width="22" height="154.9" fill="#005e9f"/><rect x="387.3" y="1583.0" width="22" height="201.0" fill="#005e9f"/><rect x="438.7" y="1649.0" width="22" height="135.0" fill="#005e9f"/><rect x="490.0" y="1643.1" width="22" height="140.9" fill="#005e9f"/><rect x="541.3" y="1665.1" width="22" height="118.9" fill="#005e9f"/><rect x="592.7" y="1583.9" width="22" height="200.1" fill="#005e9f"/><rect x="644.0" y="1580.0" width="22" height="204.0" fill="#005e9f"/><rect x="695.3" y="1530.1" width="22" height="253.9" fill="#005e9f"/><g stroke="#005e9f" stroke-width="1.4"><line x1="115.5" y1="1509" x2="115.5" y2="1784.5"/><line x1="115.5" y1="1784.5" x2="731" y2="1784.5"/><line x1="108" y1="1784.5" x2="115" y2="1784.5"/><line x1="108" y1="1738.5" x2="115" y2="1738.5"/><line x1="108" y1="1692.5" x2="115" y2="1692.5"/><line x1="108" y1="1646.5" x2="115" y2="1646.5"/><line x1="108" y1="1601.5" x2="115" y2="1601.5"/><line x1="108" y1="1555.5" x2="115" y2="1555.5"/><line x1="108" y1="1509.5" x2="115" y2="1509.5"/></g><rect x="316" y="1834.5" width="8.5" height="8.5" fill="#005e9f"/></svg><div class="a" style="left:40px;width:64px;text-align:right;top:1776.0px;font-size:11px;line-height:16px">0 mm</div><div class="a" style="left:40px;width:64px;text-align:right;top:1730.2px;font-size:11px;line-height:16px">20 mm</div><div class="a" style="left:40px;width:64px;text-align:right;top:1684.3px;font-size:11px;line-height:16px">40 mm</div><div class="a" style="left:40px;width:64px;text-align:right;top:1638.5px;font-size:11px;line-height:16px">60 mm</div><div class="a" style="left:40px;width:64px;text-align:right;top:1592.7px;font-size:11px;line-height:16px">80 mm</div><div class="a" style="left:40px;width:64px;text-align:right;top:1546.8px;font-size:11px;line-height:16px">100 mm</div><div class="a" style="left:40px;width:64px;text-align:right;top:1501.0px;font-size:11px;line-height:16px">120 mm</div><div class="a" style="left:109.7px;width:60px;text-align:center;top:1792px;font-size:13px;line-height:17px">Gen</div><div class="a" style="left:161.0px;width:60px;text-align:center;top:1792px;font-size:13px;line-height:17px">Feb</div><div class="a" style="left:212.3px;width:60px;text-align:center;top:1792px;font-size:13px;line-height:17px">Mar</div><div class="a" style="left:263.7px;width:60px;text-align:center;top:1792px;font-size:13px;line-height:17px">Apr</div><div class="a" style="left:315.0px;width:60px;text-align:center;top:1792px;font-size:13px;line-height:17px">Mag</div><div class="a" style="left:366.3px;width:60px;text-align:center;top:1792px;font-size:13px;line-height:17px">Giu</div><div class="a" style="left:417.7px;width:60px;text-align:center;top:1792px;font-size:13px;line-height:17px">Lug</div><div class="a" style="left:469.0px;width:60px;text-align:center;top:1792px;font-size:13px;line-height:17px">Ago</div><div class="a" style="left:520.3px;width:60px;text-align:center;top:1792px;font-size:13px;line-height:17px">Set</div><div class="a" style="left:571.7px;width:60px;text-align:center;top:1792px;font-size:13px;line-height:17px">Ott</div><div class="a" style="left:623.0px;width:60px;text-align:center;top:1792px;font-size:13px;line-height:17px">Nov</div><div class="a" style="left:674.3px;width:60px;text-align:center;top:1792px;font-size:13px;line-height:17px">Dic</div><div class="a" style="left:46px;top:1648px;font-size:12px;line-height:14px;transform:translate(-50%,-50%) rotate(-90deg)">Precipitazioni</div><div class="a" style="left:332px;top:1830px;font-size:13px;line-height:17px;letter-spacing:0.6px">Totale precipitazioni</div>
<!--/PRECCHART-->

<div class="a p" style="left:785px;top:1505.2px;line-height:23.7px">La media annuale delle precipitazioni a<br>Piré-sur-Seiche è di circa 898 mm. La<br>differenza tra il mese con la massima<br>precipitazione (dicembre) e quello con la<br>minima (settembre) è di 59 mm.<br><br>Le precipitazioni più intense si verificano<br>a dicembre, con una quantità mensile di<br>111 mm e una probabilità di<br>precipitazioni di circa il 41%. Al<br>contrario, le precipitazioni più basse si<br>registrano a settembre, con una media<br>di 52 mm e una probabilità dell'20%.</div>

<!--PROB-->
<div style="position:absolute;left:37px;top:1870px;width:703px;height:151px;background:#b0dcfd;border-radius:8px;overflow:hidden"><div style="position:absolute;left:0;top:0;width:703px;height:31px;background:#2e9de0"></div></div><div class="a b" style="left:37px;width:703px;text-align:center;top:1877px;font-size:17.5px;line-height:22px;color:#fff;letter-spacing:-0.8px">PROBABILITÀ DI PRECIPITAZIONI</div><svg style="left:0;top:0" width="1" height="1"><path transform="translate(67.0,1965.5)" d="M0,-50.5 C7,-39 25,-17 25,0 A25,25 0 0 1 -25,0 C-25,-17 -7,-39 0,-50.5 Z" fill="#005e9f"/><path transform="translate(125.4,1965.5)" d="M0,-50.5 C7,-39 25,-17 25,0 A25,25 0 0 1 -25,0 C-25,-17 -7,-39 0,-50.5 Z" fill="#005e9f"/><path transform="translate(183.8,1965.5)" d="M0,-50.5 C7,-39 25,-17 25,0 A25,25 0 0 1 -25,0 C-25,-17 -7,-39 0,-50.5 Z" fill="#005e9f"/><path transform="translate(242.2,1965.5)" d="M0,-50.5 C7,-39 25,-17 25,0 A25,25 0 0 1 -25,0 C-25,-17 -7,-39 0,-50.5 Z" fill="#2e9de0"/><path transform="translate(300.6,1965.5)" d="M0,-50.5 C7,-39 25,-17 25,0 A25,25 0 0 1 -25,0 C-25,-17 -7,-39 0,-50.5 Z" fill="#005e9f"/><path transform="translate(359.0,1965.5)" d="M0,-50.5 C7,-39 25,-17 25,0 A25,25 0 0 1 -25,0 C-25,-17 -7,-39 0,-50.5 Z" fill="#005e9f"/><path transform="translate(417.4,1965.5)" d="M0,-50.5 C7,-39 25,-17 25,0 A25,25 0 0 1 -25,0 C-25,-17 -7,-39 0,-50.5 Z" fill="#2e9de0"/><path transform="translate(475.8,1965.5)" d="M0,-50.5 C7,-39 25,-17 25,0 A25,25 0 0 1 -25,0 C-25,-17 -7,-39 0,-50.5 Z" fill="#2e9de0"/><path transform="translate(534.2,1965.5)" d="M0,-50.5 C7,-39 25,-17 25,0 A25,25 0 0 1 -25,0 C-25,-17 -7,-39 0,-50.5 Z" fill="#2e9de0"/><path transform="translate(592.6,1965.5)" d="M0,-50.5 C7,-39 25,-17 25,0 A25,25 0 0 1 -25,0 C-25,-17 -7,-39 0,-50.5 Z" fill="#005e9f"/><path transform="translate(651.0,1965.5)" d="M0,-50.5 C7,-39 25,-17 25,0 A25,25 0 0 1 -25,0 C-25,-17 -7,-39 0,-50.5 Z" fill="#005e9f"/><path transform="translate(709.4,1965.5)" d="M0,-50.5 C7,-39 25,-17 25,0 A25,25 0 0 1 -25,0 C-25,-17 -7,-39 0,-50.5 Z" fill="#005e9f"/></svg><div class="a b" style="left:37.0px;width:60px;text-align:center;top:1955px;font-size:17.5px;line-height:22px;color:#fff">35%</div><div class="a b" style="left:37.0px;width:60px;text-align:center;top:1996px;font-size:12px;line-height:16px;letter-spacing:-0.2px">GEN</div><div class="a b" style="left:95.4px;width:60px;text-align:center;top:1955px;font-size:17.5px;line-height:22px;color:#fff">35%</div><div class="a b" style="left:95.4px;width:60px;text-align:center;top:1996px;font-size:12px;line-height:16px;letter-spacing:-0.2px">FEB</div><div class="a b" style="left:153.8px;width:60px;text-align:center;top:1955px;font-size:17.5px;line-height:22px;color:#fff">28%</div><div class="a b" style="left:153.8px;width:60px;text-align:center;top:1996px;font-size:12px;line-height:16px;letter-spacing:-0.2px">MAR</div><div class="a b" style="left:212.2px;width:60px;text-align:center;top:1955px;font-size:17.5px;line-height:22px;color:#fff">23%</div><div class="a b" style="left:212.2px;width:60px;text-align:center;top:1996px;font-size:12px;line-height:16px;letter-spacing:-0.2px">APR</div><div class="a b" style="left:270.6px;width:60px;text-align:center;top:1955px;font-size:17.5px;line-height:22px;color:#fff">25%</div><div class="a b" style="left:270.6px;width:60px;text-align:center;top:1996px;font-size:12px;line-height:16px;letter-spacing:-0.2px">MAG</div><div class="a b" style="left:329.0px;width:60px;text-align:center;top:1955px;font-size:17.5px;line-height:22px;color:#fff">27%</div><div class="a b" style="left:329.0px;width:60px;text-align:center;top:1996px;font-size:12px;line-height:16px;letter-spacing:-0.2px">GIU</div><div class="a b" style="left:387.4px;width:60px;text-align:center;top:1955px;font-size:17.5px;line-height:22px;color:#fff">20%</div><div class="a b" style="left:387.4px;width:60px;text-align:center;top:1996px;font-size:12px;line-height:16px;letter-spacing:-0.2px">LUG</div><div class="a b" style="left:445.8px;width:60px;text-align:center;top:1955px;font-size:17.5px;line-height:22px;color:#fff">22%</div><div class="a b" style="left:445.8px;width:60px;text-align:center;top:1996px;font-size:12px;line-height:16px;letter-spacing:-0.2px">AGO</div><div class="a b" style="left:504.2px;width:60px;text-align:center;top:1955px;font-size:17.5px;line-height:22px;color:#fff">20%</div><div class="a b" style="left:504.2px;width:60px;text-align:center;top:1996px;font-size:12px;line-height:16px;letter-spacing:-0.2px">SET</div><div class="a b" style="left:562.6px;width:60px;text-align:center;top:1955px;font-size:17.5px;line-height:22px;color:#fff">31%</div><div class="a b" style="left:562.6px;width:60px;text-align:center;top:1996px;font-size:12px;line-height:16px;letter-spacing:-0.2px">OTT</div><div class="a b" style="left:621.0px;width:60px;text-align:center;top:1955px;font-size:17.5px;line-height:22px;color:#fff">36%</div><div class="a b" style="left:621.0px;width:60px;text-align:center;top:1996px;font-size:12px;line-height:16px;letter-spacing:-0.2px">NOV</div><div class="a b" style="left:679.4px;width:60px;text-align:center;top:1955px;font-size:17.5px;line-height:22px;color:#fff">41%</div><div class="a b" style="left:679.4px;width:60px;text-align:center;top:1996px;font-size:12px;line-height:16px;letter-spacing:-0.2px">DIC</div>
<!--/PROB-->

<div class="a b" style="left:785px;top:1934.8px;font-size:19.6px;line-height:24px;letter-spacing:-0.65px">PRECIPITAZIONI PER TIPO</div>
<div class="a p" style="left:785px;top:1965.4px;font-size:19.6px;line-height:28.7px;letter-spacing:-0.5px">• Pioggia: 98%<br>• Neve: 2%</div>

<!--FOOTER-->
<svg style="left:0;top:0" width="1" height="1"><g fill="none" stroke="#b0dcfd" stroke-width="3"><circle cx="57.3" cy="2111.3" r="16.5"/><circle cx="106.7" cy="2111.3" r="16.5"/><circle cx="154.7" cy="2111.3" r="16.5"/></g><g fill="#b0dcfd"><circle cx="106.7" cy="2101.5" r="2.6"/><rect x="102.7" y="2105" width="8" height="9" rx="1"/><rect x="104.2" y="2112" width="5" height="8"/><rect x="148" y="2106" width="13.5" height="3"/><rect x="148" y="2112.5" width="13.5" height="3"/></g></svg><div class="a b" style="left:42.3px;width:30px;text-align:center;top:2100.5px;font-size:19px;line-height:20px;color:#b0dcfd;letter-spacing:-1.2px">cc</div><div class="a b" style="left:185px;top:2102.5px;font-size:16px;line-height:20px;color:#b0dcfd;letter-spacing:0.85px">CC BY-ND 4.0</div>
<!--/FOOTER-->
<div class="a b" style="right:43px;top:2098.5px;font-size:22px;line-height:28px;color:#fff;letter-spacing:-0.48px;margin-right:-0.48px">METEOATLAS.IT</div>
</body></html>
